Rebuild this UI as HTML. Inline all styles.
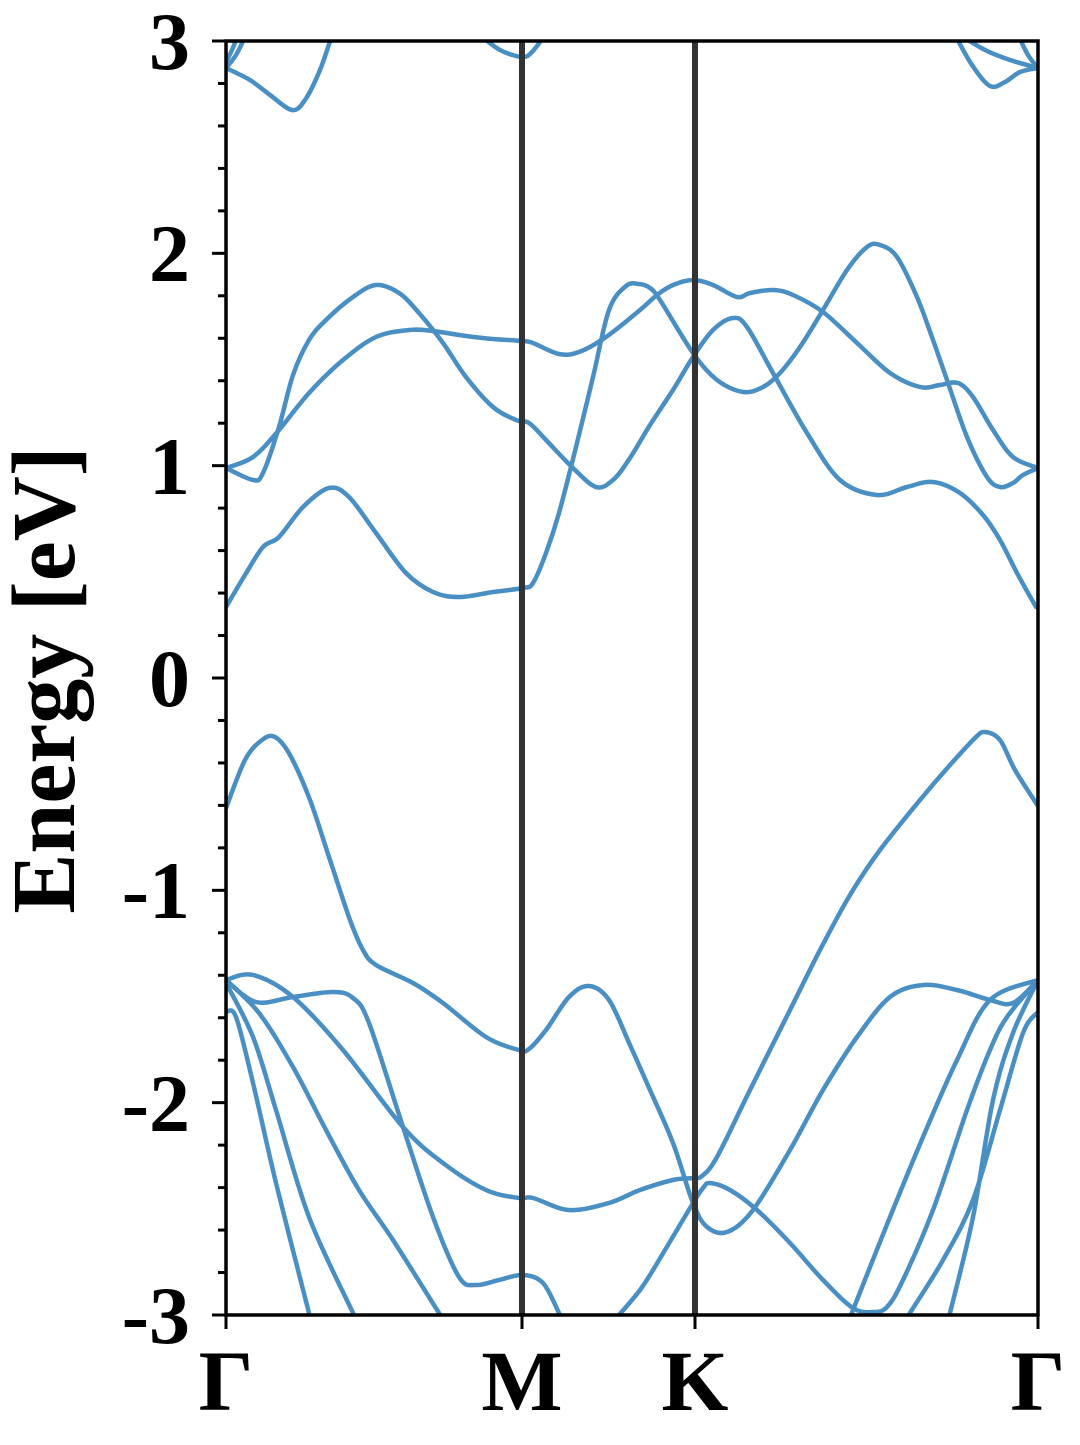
<!DOCTYPE html>
<html><head><meta charset="utf-8"><style>
html,body{margin:0;padding:0;background:#fff;}
svg text{font-family:"Liberation Serif",serif;font-weight:bold;fill:#000;}
</style></head><body>
<svg id="s" width="1080" height="1440" viewBox="0 0 1080 1440" xmlns="http://www.w3.org/2000/svg">
<defs><clipPath id="c"><rect x="226" y="41" width="812" height="1274"/></clipPath></defs>
<g id="bands" clip-path="url(#c)" fill="none" stroke="#4a8fc4" stroke-width="4.5" stroke-linecap="round" stroke-linejoin="round"></g>
<line x1="522" y1="41" x2="522" y2="1315" stroke="#333" stroke-width="6"/>
<line x1="695" y1="41" x2="695" y2="1315" stroke="#333" stroke-width="6"/>
<rect x="226" y="41" width="812" height="1274" fill="none" stroke="#000" stroke-width="3.5"/>
<g id="ticks" stroke="#000" stroke-width="3"></g>
<g font-size="82" text-anchor="end">
<text x="190" y="69">3</text><text x="190" y="281">2</text><text x="190" y="494">1</text>
<text x="190" y="706">0</text><text x="190" y="918">-1</text><text x="190" y="1131">-2</text><text x="190" y="1343">-3</text>
</g>
<g font-size="86" text-anchor="middle">
<text x="226" y="1410">Γ</text><text x="522" y="1410">M</text><text x="695" y="1410">K</text><text x="1038" y="1410">Γ</text>
</g>
<text font-size="90" text-anchor="middle" transform="translate(74,680) rotate(-90)">Energy [eV]</text>
</svg>
<script>
var B=[
[[226,607],[245,575],[263,547],[279,537],[303,507],[329,488],[349,497],[376,533],[406,573],[433,592],[459,597],[493,592],[523,588],[533,583],[546,553],[559,513],[576,447],[593,377],[609,310],[626,286],[639,284],[650,288],[660,300],[693,353],[717,380],[743,392],[763,387],[780,373],[800,347],[823,310],[847,270],[867,247],[880,245],[897,257],[917,297],[933,340],[947,380],[967,437],[987,477],[1000,487],[1013,483],[1023,475],[1038,468]],
[[226,468],[253,480],[263,473],[279,427],[293,375],[309,340],[326,320],[353,297],[376,285],[399,293],[419,313],[443,343],[466,377],[493,407],[516,420],[529,423],[546,440],[573,468],[596,487],[613,480],[630,458],[650,425],[673,390],[693,357],[713,330],[733,318],[747,327],[773,373],[807,433],[840,480],[877,495],[907,487],[933,482],[960,493],[983,515],[1000,540],[1017,573],[1036,607]],
[[226,468],[253,457],[279,430],[309,393],[343,360],[376,337],[409,330],[433,331],[466,336],[493,339],[523,341],[533,343],[559,354],[579,352],[606,337],[640,310],[657,295],[673,285],[693,280],[713,285],[737,297],[750,293],[773,290],[793,295],[823,312],[857,343],[890,373],[920,387],[940,385],[958,383],[973,397],[993,430],[1013,457],[1038,468]],
[[226,68],[250,80],[270,95],[292,110],[305,100],[320,70],[332,35]],
[[226,68],[236,55],[246,35]],[[226,62],[232,50],[238,35]],
[[480,35],[500,50],[522,57],[532,52],[545,35]],
[[955,35],[972,65],[990,86],[1005,82],[1020,72],[1038,68]],
[[960,35],[985,50],[1010,60],[1038,68]],[[1018,35],[1028,55],[1038,68]],
[[226,808],[245,760],[262,740],[275,737],[290,755],[310,800],[330,860],[350,920],[363,950],[376,965],[413,983],[443,1003],[486,1037],[519,1050],[529,1049],[546,1030],[569,997],[589,986],[609,1000],[630,1045],[650,1090],[673,1143],[693,1203],[707,1227],[727,1232],[753,1210],[790,1150],[823,1090],[857,1037],[890,997],[923,985],[957,990],[990,1000],[1013,1003],[1038,980]],
[[226,980],[253,975],[293,997],[343,1050],[403,1127],[443,1163],[486,1190],[519,1198],[533,1198],[569,1210],[609,1203],[640,1190],[673,1180],[693,1178],[702,1176],[717,1157],[750,1090],[790,1010],[820,950],[850,895],[880,850],[920,800],[950,765],[975,738],[985,732],[1000,740],[1015,770],[1038,806]],
[[226,980],[256,1002],[293,997],[333,992],[353,998],[369,1023],[403,1127],[433,1217],[459,1277],[476,1285],[499,1280],[523,1275],[543,1283],[559,1313],[565,1325]],
[[610,1325],[640,1290],[665,1250],[693,1203],[703,1188],[710,1183],[730,1190],[757,1210],[790,1243],[823,1280],[853,1308],[873,1312],[887,1307],[903,1280],[933,1210],[967,1110],[990,1050],[1007,1017],[1038,980]],
[[845,1330],[853,1310],[890,1217],[923,1137],[957,1060],[990,1000],[1038,980]],
[[226,980],[259,1013],[293,1067],[326,1130],[359,1190],[393,1240],[439,1313],[445,1322]],
[[226,983],[253,1037],[276,1110],[309,1217],[353,1313],[357,1322]],
[[226,1012],[236,1017],[253,1083],[276,1183],[309,1313],[311,1322]],
[[905,1322],[910,1313],[943,1260],[973,1200],[1000,1110],[1023,1033],[1038,1012]],
[[948,1322],[950,1313],[973,1217],[993,1100],[1013,1033],[1038,980]]
];
function cr(p){var d="M"+p[0][0]+","+p[0][1];for(var i=0;i<p.length-1;i++){var p0=p[i-1]||p[i],p1=p[i],p2=p[i+1],p3=p[i+2]||p2;
d+="C"+(p1[0]+(p2[0]-p0[0])/6).toFixed(1)+","+(p1[1]+(p2[1]-p0[1])/6).toFixed(1)+" "+(p2[0]-(p3[0]-p1[0])/6).toFixed(1)+","+(p2[1]-(p3[1]-p1[1])/6).toFixed(1)+" "+p2[0]+","+p2[1];}return d;}
var NS="http://www.w3.org/2000/svg",g=document.getElementById("bands");
B.forEach(function(p){var e=document.createElementNS(NS,"path");e.setAttribute("d",cr(p));g.appendChild(e);});
var t=document.getElementById("ticks");
function ln(a,b,c,d){var e=document.createElementNS(NS,"line");e.setAttribute("x1",a);e.setAttribute("y1",b);e.setAttribute("x2",c);e.setAttribute("y2",d);t.appendChild(e);}
for(var k=0;k<=30;k++){var y=41+k*1274/30;if(k%5==0)ln(212,y,226,y);else ln(218,y,226,y);}
[226,522,695,1038].forEach(function(x){ln(x,1315,x,1329);});
</script>
</body></html>
